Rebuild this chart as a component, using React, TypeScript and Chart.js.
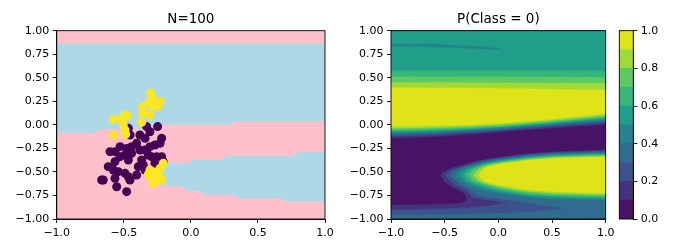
import React, { useEffect, useRef } from 'react';
import { Chart, registerables } from 'chart.js';

Chart.register(...registerables);

const FONT_FAMILY = "'DejaVu Sans', 'Liberation Sans', sans-serif";
const TICK_SIZE = 11;
const TITLE_SIZE = 13.5;

// ---------- ticks ----------
const xTicks = [-1, -0.5, 0, 0.5, 1];
const yTicks = [-1, -0.75, -0.5, -0.25, 0, 0.25, 0.5, 0.75, 1];
const colorbarTicks = [0, 0.2, 0.4, 0.6, 0.8, 1];
const levels = [0, 0.1, 0.2, 0.3, 0.4, 0.5, 0.6, 0.7, 0.8, 0.9, 1];
const bandColors = ['#471365', '#46337e', '#3b528b', '#2f6c8e', '#26828e', '#1f9e89', '#35b779', '#5ec962', '#a0da39', '#dfe318'];

// ---------- left panel: scatter ----------
const classColors = ['#440154', '#fde725'];
const regionColors = ['#ffc0cb', '#add8e6'];

const class0X = [-0.466, -0.330, -0.248, -0.305, -0.380, -0.342, -0.218, -0.230, -0.268, -0.305, -0.404, -0.442, -0.479, -0.528, -0.566, -0.603, -0.528, -0.491, -0.442, -0.380, -0.342, -0.317, -0.367, -0.355, -0.293, -0.255, -0.218, -0.206, -0.268, -0.466, -0.566, -0.616, -0.578, -0.541, -0.491, -0.466, -0.454, -0.404, -0.566, -0.653, -0.553, -0.479, -0.342, -0.392, -0.453, -0.665];
const class0Y = [-0.037, -0.019, -0.019, -0.073, -0.108, -0.143, -0.143, -0.196, -0.214, -0.232, -0.196, -0.232, -0.250, -0.232, -0.285, -0.285, -0.338, -0.320, -0.303, -0.267, -0.267, -0.320, -0.373, -0.427, -0.338, -0.338, -0.338, -0.391, -0.409, -0.373, -0.391, -0.444, -0.480, -0.497, -0.515, -0.551, -0.586, -0.533, -0.568, -0.586, -0.657, -0.710, -0.480, -0.444, -0.108, -0.586];

const class1X = [-0.300, -0.312, -0.273, -0.228, -0.248, -0.288, -0.360, -0.360, -0.305, -0.496, -0.476, -0.516, -0.578, -0.367, -0.504, -0.486, -0.578, -0.491, -0.206, -0.230, -0.268, -0.317, -0.292, -0.255, -0.218, -0.280, -0.238, -0.305];
const class1Y = [0.335, 0.246, 0.260, 0.246, 0.196, 0.204, 0.193, 0.122, 0.104, 0.097, 0.097, 0.058, 0.058, 0.027, -0.002, -0.101, -0.108, -0.055, -0.409, -0.462, -0.504, -0.526, -0.568, -0.586, -0.586, -0.621, -0.540, -0.480];

// decision regions (light blue on pink)
const regionUpper: [number, number][] = [[-1, 0.862], [1, 0.862], [1, 0.041], [0.341, 0.041], [0.291, 0.003], [-0.32, 0.003], [-0.36, -0.044], [-0.677, -0.044], [-0.722, -0.083], [-1, -0.083]];
const regionLower: [number, number][] = [[-0.34, -0.53], [-0.3, -0.47], [-0.25, -0.425], [-0.193, -0.409], [-0.019, -0.409], [0.018, -0.373], [0.229, -0.373], [0.266, -0.331], [0.763, -0.331], [0.8, -0.292], [1, -0.292], [1, -0.814], [0.714, -0.814], [0.676, -0.778], [0.35, -0.778], [0.32, -0.742], [0.1, -0.742], [0.07, -0.70], [-0.03, -0.70], [-0.06, -0.65], [-0.19, -0.645], [-0.26, -0.62], [-0.32, -0.57]];

// ---------- right panel: filled contours of P(Class = 0) ----------
const upperX = [-1, -0.75, -0.5, -0.25, 0, 0.25, 0.5, 0.75, 1];
const upperLevel1 = [-0.14, -0.135, -0.12, -0.10, -0.078, -0.055, -0.035, -0.015, 0.0];
const upperLevel2 = [-0.12, -0.115, -0.102, -0.084, -0.063, -0.041, -0.02, 0.002, 0.019];
const upperLevel3 = [-0.104, -0.1, -0.088, -0.071, -0.051, -0.029, -0.007, 0.015, 0.035];
const upperLevel4 = [-0.09, -0.086, -0.075, -0.06, -0.041, -0.019, 0.003, 0.027, 0.048];
const upperLevel5 = [-0.078, -0.074, -0.064, -0.05, -0.031, -0.01, 0.013, 0.038, 0.06];
const upperLevel6 = [-0.065, -0.062, -0.053, -0.04, -0.022, -0.001, 0.022, 0.048, 0.072];
const upperLevel7 = [-0.051, -0.048, -0.04, -0.029, -0.012, 0.009, 0.032, 0.06, 0.085];
const upperLevel8 = [-0.035, -0.033, -0.026, -0.016, 0.0, 0.021, 0.045, 0.073, 0.101];
const upperLevel9 = [-0.015, -0.013, -0.008, 0.0, 0.015, 0.035, 0.06, 0.09, 0.12];

const ridgeX = [-1, 0, 1];
const ridgeLevel6 = [0.575, 0.575, 0.575];
const ridgeLevel7 = [0.512, 0.51, 0.505];
const ridgeLevel8 = [0.451, 0.448, 0.441];
const ridgeLevel9 = [0.395, 0.388, 0.37];

const lowerLevel1: [number, number][] = [[1, -0.265], [0.5, -0.285], [0.25, -0.307], [0, -0.343], [-0.197, -0.381], [-0.393, -0.445], [-0.466, -0.472], [-0.52, -0.505], [-0.54, -0.533], [-0.522, -0.565], [-0.49, -0.615], [-0.44, -0.655], [-0.38, -0.69], [-0.332, -0.717], [-0.302, -0.748], [-0.292, -0.784], [-0.31, -0.812], [-0.36, -0.832], [-0.6, -0.846], [-1, -0.851], [-1, -1], [1, -1]];
const lowerLevel2: [number, number][] = [[1, -0.274], [0.5, -0.294], [0.25, -0.316], [0, -0.352], [-0.178, -0.387], [-0.357, -0.445], [-0.4255, -0.472], [-0.476, -0.505], [-0.496, -0.533], [-0.478, -0.563], [-0.445, -0.605], [-0.39, -0.648], [-0.33, -0.68], [-0.285, -0.71], [-0.262, -0.745], [-0.245, -0.77], [-0.18, -0.785], [-0.05, -0.805], [0.07, -0.828], [-0.05, -0.855], [-0.2, -0.872], [-0.5, -0.89], [-1, -0.904], [-1, -1], [1, -1]];
const lowerLevel3: [number, number][] = [[1, -0.284], [0.5, -0.303], [0.25, -0.325], [0, -0.362], [-0.16, -0.394], [-0.319, -0.445], [-0.384, -0.472], [-0.431, -0.505], [-0.451, -0.533], [-0.433, -0.563], [-0.4, -0.6], [-0.345, -0.64], [-0.29, -0.672], [-0.245, -0.7], [-0.215, -0.73], [-0.18, -0.755], [-0.08, -0.772], [0.07, -0.795], [0.2, -0.815], [0.4, -0.85], [0.606, -0.887], [0.4, -0.918], [0.1, -0.935], [-0.3, -0.95], [-1, -0.957], [-1, -1], [1, -1]];
const lowerLevel4: [number, number][] = [[1, -0.293], [0.5, -0.312], [0.25, -0.334], [0, -0.371], [-0.141, -0.4], [-0.283, -0.445], [-0.3435, -0.472], [-0.387, -0.505], [-0.407, -0.533], [-0.389, -0.562], [-0.355, -0.598], [-0.3, -0.635], [-0.24, -0.665], [-0.17, -0.692], [-0.08, -0.712], [0, -0.728], [0.25, -0.768], [0.5, -0.79], [1, -0.8]];
const lowerLevel5: [number, number][] = [[1, -0.302], [0.5, -0.32], [0.25, -0.343], [0, -0.38], [-0.123, -0.406], [-0.246, -0.445], [-0.303, -0.472], [-0.343, -0.505], [-0.363, -0.533], [-0.345, -0.562], [-0.31, -0.597], [-0.255, -0.628], [-0.19, -0.655], [-0.1, -0.684], [0, -0.71], [0.25, -0.752], [0.5, -0.774], [1, -0.785]];
const lowerLevel6: [number, number][] = [[1, -0.312], [0.5, -0.329], [0.25, -0.352], [0, -0.39], [-0.105, -0.412], [-0.21, -0.445], [-0.2625, -0.472], [-0.299, -0.505], [-0.319, -0.533], [-0.301, -0.562], [-0.268, -0.595], [-0.215, -0.622], [-0.15, -0.645], [-0.07, -0.67], [0, -0.692], [0.25, -0.736], [0.5, -0.758], [1, -0.771]];
const lowerLevel7: [number, number][] = [[1, -0.321], [0.5, -0.338], [0.25, -0.361], [0, -0.399], [-0.087, -0.419], [-0.174, -0.445], [-0.222, -0.472], [-0.255, -0.505], [-0.275, -0.533], [-0.257, -0.562], [-0.225, -0.594], [-0.177, -0.617], [-0.11, -0.638], [-0.05, -0.656], [0, -0.674], [0.25, -0.72], [0.5, -0.742], [1, -0.756]];
const lowerLevel8: [number, number][] = [[1, -0.331], [0.5, -0.347], [0.25, -0.371], [0, -0.409], [-0.068, -0.425], [-0.136, -0.445], [-0.1805, -0.472], [-0.21, -0.505], [-0.23, -0.533], [-0.212, -0.562], [-0.182, -0.594], [-0.138, -0.614], [-0.07, -0.636], [0, -0.657], [0.25, -0.704], [0.5, -0.726], [1, -0.742]];
const lowerLevel9: [number, number][] = [[1, -0.34], [0.5, -0.356], [0.25, -0.38], [0, -0.418], [-0.05, -0.431], [-0.1, -0.445], [-0.14, -0.472], [-0.166, -0.505], [-0.186, -0.533], [-0.168, -0.562], [-0.14, -0.594], [-0.1, -0.614], [0, -0.64], [0.25, -0.688], [0.5, -0.71], [1, -0.727]];

// thin darker streak (0.4–0.5) inside the top plateau
const streakLevel4: [number, number][] = [[-1, 0.858], [-0.59, 0.855], [-0.28, 0.838], [-0.062, 0.82], [0.031, 0.804], [-0.124, 0.806], [-0.435, 0.822], [-0.745, 0.833], [-1, 0.836]];

// ---------- helpers ----------
const fmt = (v: number, d: number) => (v < 0 ? '\u2212' : '') + Math.abs(v).toFixed(d);
const tickFont = { family: FONT_FAMILY, size: TICK_SIZE };

const framePlugin = {
  id: 'frame',
  afterDatasetsDraw(chart: any) {
    const { ctx, chartArea: a } = chart;
    ctx.save();
    ctx.strokeStyle = '#000';
    ctx.lineWidth = 0.9;
    ctx.strokeRect(a.left, a.top, a.right - a.left, a.bottom - a.top);
    ctx.restore();
  },
};

function polygon(points: [number, number][], color: string) {
  return {
    type: 'line' as const,
    data: points.map(([x, y]) => ({ x, y })),
    backgroundColor: color,
    borderColor: color,
    borderWidth: 0.3,
    pointRadius: 0,
    pointHitRadius: 0,
    fill: 'shape',
    tension: 0,
  };
}

function axis(ticks: number[], digits: number, size: number, isX: boolean) {
  return {
    type: 'linear' as const,
    min: -1,
    max: 1,
    afterBuildTicks: (s: any) => {
      s.ticks = ticks.map((value) => ({ value }));
    },
    afterFit: (s: any) => {
      if (isX) s.height = size;
      else s.width = size;
      s.paddingLeft = 0;
      s.paddingRight = 0;
      s.paddingTop = 0;
      s.paddingBottom = 0;
    },
    ticks: {
      callback: (v: any) => fmt(Number(v), digits),
      font: tickFont,
      color: '#000',
      padding: 3.5,
      maxRotation: 0,
      autoSkip: false,
    },
    grid: { drawOnChartArea: false, drawTicks: true, tickLength: 4, color: '#000', tickColor: '#000', lineWidth: 0.9 },
    border: { display: true, color: '#000', width: 0.9 },
  };
}

function titleOpts(text: string) {
  return {
    display: true,
    text,
    color: '#000',
    font: { family: FONT_FAMILY, size: TITLE_SIZE, weight: 'normal' as const, lineHeight: 1.2 },
    padding: { top: 11.0, bottom: 30.67 - 11.0 - TITLE_SIZE * 1.2 },
    fullSize: false,
  };
}

function scatterSet(xs: number[], ys: number[], color: string, order: number) {
  return {
    type: 'scatter' as const,
    data: xs.map((x, i) => ({ x, y: ys[i] })),
    pointStyle: 'circle',
    pointRadius: 4.5,
    pointBackgroundColor: color,
    pointBorderColor: color,
    pointBorderWidth: 0,
    borderColor: 'rgba(0,0,0,0)',
    showLine: false,
    order,
  };
}

export default function App() {
  const leftRef = useRef<HTMLCanvasElement>(null);
  const rightRef = useRef<HTMLCanvasElement>(null);
  const cbRef = useRef<HTMLCanvasElement>(null);

  useEffect(() => {
    const charts: Chart[] = [];

    // ----- left chart -----
    const leftSets: any[] = [
      polygon([[-1, -1], [1, -1], [1, 1], [-1, 1]], regionColors[0]),
      polygon(regionUpper, regionColors[1]),
      polygon(regionLower, regionColors[1]),
    ];
    leftSets.forEach((d, i) => (d.order = 100 - i));
    leftSets.push(scatterSet(class0X, class0Y, classColors[0], 2));
    leftSets.push(scatterSet(class1X, class1Y, classColors[1], 1));

    charts.push(
      new Chart(leftRef.current!, {
        type: 'scatter',
        data: { datasets: leftSets },
        options: {
          animation: false,
          responsive: false,
          events: [],
          layout: { padding: { left: 0, right: 15, top: 0, bottom: 0 } },
          plugins: { legend: { display: false }, tooltip: { enabled: false }, title: titleOpts('N=100') as any },
          scales: { x: axis(xTicks, 1, 32, true) as any, y: axis(yTicks, 2, 56.75, false) as any },
        },
        plugins: [framePlugin],
      })
    );

    // ----- right chart -----
    const uppers = [upperLevel1, upperLevel2, upperLevel3, upperLevel4, upperLevel5, upperLevel6, upperLevel7, upperLevel8, upperLevel9];
    const ridges: Record<number, number[]> = { 6: ridgeLevel6, 7: ridgeLevel7, 8: ridgeLevel8, 9: ridgeLevel9 };
    const lowers = [lowerLevel1, lowerLevel2, lowerLevel3, lowerLevel4, lowerLevel5, lowerLevel6, lowerLevel7, lowerLevel8, lowerLevel9];

    const rightSets: any[] = [polygon([[-1, -1], [1, -1], [1, 1], [-1, 1]], bandColors[0])];
    for (let k = 1; k <= 9; k++) {
      const lower = uppers[k - 1];
      const bottomEdge: [number, number][] = upperX.map((x, i) => [x, lower[i]] as [number, number]).reverse();
      const topEdge: [number, number][] = ridges[k]
        ? ridgeX.map((x, i) => [x, ridges[k][i]] as [number, number])
        : [[-1, 1], [1, 1]];
      rightSets.push(polygon([...topEdge, ...bottomEdge], bandColors[k]));
      rightSets.push(polygon(lowers[k - 1], bandColors[k]));
    }
    rightSets.push(polygon(streakLevel4, bandColors[4]));
    rightSets.forEach((d, i) => (d.order = 200 - i));

    charts.push(
      new Chart(rightRef.current!, {
        type: 'scatter',
        data: { datasets: rightSets },
        options: {
          animation: false,
          responsive: false,
          events: [],
          layout: { padding: { left: 0, right: 24.33, top: 0, bottom: 0 } },
          plugins: { legend: { display: false }, tooltip: { enabled: false }, title: titleOpts('P(Class = 0)') as any },
          scales: { x: axis(xTicks, 1, 32, true) as any, y: axis(yTicks, 2, 51, false) as any },
        },
        plugins: [framePlugin],
      })
    );

    // ----- colorbar -----
    const cbSets = bandColors.map((c, i) => ({
      data: [[levels[i], levels[i + 1]]],
      backgroundColor: c,
      borderWidth: 0,
      grouped: false,
      barPercentage: 1,
      categoryPercentage: 1,
    }));
    charts.push(
      new Chart(cbRef.current!, {
        type: 'bar',
        data: { labels: ['P'], datasets: cbSets as any },
        options: {
          animation: false,
          responsive: false,
          events: [],
          layout: { padding: { left: 7.3, right: 0, top: 30.67, bottom: 32 } },
          plugins: { legend: { display: false }, tooltip: { enabled: false } },
          scales: {
            x: { display: false },
            y: {
              position: 'right',
              min: 0,
              max: 1,
              afterBuildTicks: (s: any) => {
                s.ticks = colorbarTicks.map((value) => ({ value }));
              },
              afterFit: (s: any) => {
                s.width = 61 - 7.3 - 14;
                s.paddingTop = 0;
                s.paddingBottom = 0;
              },
              ticks: { callback: (v: any) => fmt(Number(v), 1), font: tickFont, color: '#000', padding: 3.5 },
              grid: { drawOnChartArea: false, drawTicks: true, tickLength: 4, color: '#000', lineWidth: 0.9 },
              border: { display: true, color: '#000', width: 0.9 },
            } as any,
          },
        },
        plugins: [framePlugin],
      })
    );

    return () => charts.forEach((c) => c.destroy());
  }, []);

  return (
    <div style={{ position: 'fixed', left: 0, top: 0, width: 673, height: 251, background: '#fff', overflow: 'hidden' }}>
      <canvas ref={leftRef} width={340} height={251} style={{ position: 'absolute', left: 0, top: 0, width: 340, height: 251 }} />
      <canvas ref={rightRef} width={290} height={251} style={{ position: 'absolute', left: 340, top: 0, width: 290, height: 251 }} />
      <canvas ref={cbRef} width={61} height={251} style={{ position: 'absolute', left: 612, top: 0, width: 61, height: 251 }} />
    </div>
  );
}
